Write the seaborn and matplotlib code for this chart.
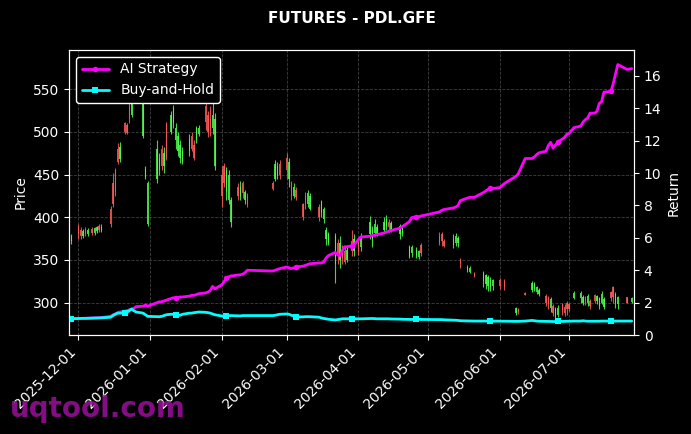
import numpy as np
import pandas as pd
import matplotlib
matplotlib.use("Agg")
import matplotlib.pyplot as plt
import matplotlib.dates as mdates
import seaborn as sns

# candle dates and OHLC values
dates = [
    "2025-11-28", "2025-12-01", "2025-12-02", "2025-12-03", "2025-12-04", "2025-12-05",
    "2025-12-07", "2025-12-08", "2025-12-09", "2025-12-10", "2025-12-11", "2025-12-15",
    "2025-12-16", "2025-12-17", "2025-12-18", "2025-12-19", "2025-12-21", "2025-12-22",
    "2025-12-23", "2025-12-24", "2025-12-25", "2025-12-26", "2025-12-29", "2025-12-30",
    "2025-12-31", "2026-01-04", "2026-01-05", "2026-01-06", "2026-01-07", "2026-01-08",
    "2026-01-10", "2026-01-11", "2026-01-12", "2026-01-13", "2026-01-14", "2026-01-15",
    "2026-01-18", "2026-01-19", "2026-01-20", "2026-01-21", "2026-01-22", "2026-01-25",
    "2026-01-26", "2026-01-27", "2026-01-28", "2026-01-29", "2026-02-01", "2026-02-02",
    "2026-02-03", "2026-02-04", "2026-02-05", "2026-02-08", "2026-02-09", "2026-02-10",
    "2026-02-11", "2026-02-12", "2026-02-23", "2026-02-24", "2026-02-25", "2026-02-26",
    "2026-03-01", "2026-03-02", "2026-03-03", "2026-03-04", "2026-03-05", "2026-03-08",
    "2026-03-09", "2026-03-10", "2026-03-11", "2026-03-15", "2026-03-16", "2026-03-17",
    "2026-03-18", "2026-03-19", "2026-03-22", "2026-03-23", "2026-03-24", "2026-03-25",
    "2026-03-26", "2026-03-27", "2026-03-29", "2026-03-30", "2026-04-01", "2026-04-02",
    "2026-04-06", "2026-04-07", "2026-04-08", "2026-04-09", "2026-04-12", "2026-04-13",
    "2026-04-14", "2026-04-15", "2026-04-19", "2026-04-20", "2026-04-23", "2026-04-24",
    "2026-04-26", "2026-04-27", "2026-04-28", "2026-05-06", "2026-05-07", "2026-05-08",
    "2026-05-12", "2026-05-13", "2026-05-14", "2026-05-15", "2026-05-18", "2026-05-19",
    "2026-05-21", "2026-05-25", "2026-05-26", "2026-05-27", "2026-05-28", "2026-05-29",
    "2026-06-01", "2026-06-03", "2026-06-08", "2026-06-09", "2026-06-12", "2026-06-15",
    "2026-06-16", "2026-06-17", "2026-06-18", "2026-06-21", "2026-06-22", "2026-06-23",
    "2026-06-24", "2026-06-25", "2026-06-26", "2026-06-28", "2026-06-29", "2026-06-30",
    "2026-07-01", "2026-07-03", "2026-07-06", "2026-07-07", "2026-07-08", "2026-07-09",
    "2026-07-10", "2026-07-12", "2026-07-13", "2026-07-14", "2026-07-15", "2026-07-16",
    "2026-07-19", "2026-07-20", "2026-07-21", "2026-07-22", "2026-07-26", "2026-07-28",
]
opens = [
    372, 390, 385, 378, 386, 380, 386, 381, 384, 390, 385, 410,
    440, 455, 480, 468, 510, 508, 530, 520, 560, 555, 495, 447,
    392, 445, 455, 480, 460, 510, 500, 510, 490, 478, 470, 465,
    478, 495, 485, 490, 498, 530, 520, 515, 505, 460, 450, 460,
    430, 420, 395, 435, 425, 440, 420, 425, 440, 445, 448, 462,
    470, 445, 440, 425, 432, 415, 425, 415, 410, 412, 405, 398,
    375, 370, 345, 370, 350, 365, 360, 350, 372, 360, 370, 365,
    380, 375, 382, 380, 385, 390, 395, 385, 380, 382, 355, 358,
    355, 353, 368, 378, 380, 372, 368, 370, 370, 350, 338, 336,
    335, 325, 322, 320, 318, 320, 327, 325, 288, 293, 311, 315,
    316, 312, 310, 308, 305, 294, 296, 283, 286, 298, 295, 300,
    298, 305, 305, 300, 306, 300, 302, 309, 302, 296, 300, 295,
    312, 318, 300, 298, 306, 301,
]
highs = [
    380, 392, 388, 386, 388, 387, 388, 389, 390, 392, 392, 413,
    452, 458, 487, 488, 512, 511, 537, 538, 578, 562, 540, 460,
    442, 490, 475, 485, 482, 512, 525, 532, 510, 500, 490, 482,
    497, 500, 490, 507, 508, 534, 524, 530, 545, 522, 460, 464,
    459, 455, 424, 440, 443, 443, 432, 428, 443, 467, 465, 467,
    475, 470, 442, 440, 436, 417, 430, 432, 428, 416, 420, 412,
    389, 383, 382, 375, 378, 368, 365, 366, 385, 380, 372, 382,
    401, 390, 398, 392, 400, 403, 398, 396, 392, 391, 368, 367,
    365, 362, 370, 383, 383, 375, 380, 381, 378, 352, 344, 343,
    336, 337, 334, 332, 330, 328, 329, 328, 295, 294, 312, 325,
    324, 320, 317, 310, 308, 306, 298, 295, 297, 300, 298, 302,
    300, 313, 313, 309, 308, 310, 304, 310, 309, 307, 313, 306,
    314, 319, 312, 308, 307, 307,
]
lows = [
    369, 375, 374, 376, 378, 378, 379, 379, 382, 383, 383, 389,
    412, 425, 462, 465, 498, 497, 511, 518, 535, 540, 493, 445,
    390, 440, 450, 455, 452, 467, 498, 505, 480, 472, 464, 462,
    472, 478, 467, 487, 495, 502, 494, 495, 498, 455, 412, 435,
    420, 415, 389, 420, 420, 422, 415, 412, 432, 443, 445, 445,
    445, 435, 420, 422, 420, 397, 410, 412, 408, 396, 400, 393,
    368, 368, 323, 345, 340, 345, 345, 347, 354, 355, 356, 360,
    375, 365, 378, 378, 382, 385, 383, 383, 374, 378, 352, 353,
    352, 351, 355, 368, 366, 365, 364, 366, 365, 341, 336, 335,
    330, 318, 316, 314, 313, 315, 316, 315, 286, 287, 309, 312,
    313, 310, 308, 296, 292, 289, 284, 280, 283, 286, 284, 286,
    290, 304, 300, 297, 297, 296, 292, 300, 298, 292, 298, 292,
    302, 300, 294, 292, 299, 300,
]
closes = [
    378, 380, 378, 384, 380, 385, 381, 387, 388, 385, 389, 392,
    415, 430, 465, 482, 500, 499, 515, 535, 540, 545, 535, 457,
    440, 480, 470, 460, 475, 470, 520, 528, 505, 495, 485, 478,
    492, 480, 470, 505, 505, 512, 500, 505, 520, 515, 425, 440,
    455, 450, 420, 425, 435, 428, 430, 415, 433, 462, 460, 450,
    455, 465, 425, 435, 424, 400, 415, 428, 425, 400, 418, 410,
    385, 380, 378, 355, 370, 350, 348, 362, 360, 375, 360, 378,
    395, 385, 392, 388, 395, 398, 388, 393, 390, 388, 365, 365,
    362, 360, 358, 370, 372, 366, 375, 378, 376, 345, 342, 341,
    331, 335, 332, 330, 326, 326, 320, 318, 294, 289, 309, 323,
    322, 318, 315, 300, 298, 304, 288, 292, 294, 290, 288, 292,
    292, 311, 311, 307, 300, 308, 296, 302, 308, 305, 310, 304,
    305, 306, 310, 306, 300, 305,
]

# cumulative returns on the same dates
ai_return = [
    1.00, 1.02, 1.02, 1.03, 1.03, 1.04, 1.05, 1.05, 1.06, 1.07, 1.08, 1.15,
    1.25, 1.30, 1.38, 1.42, 1.45, 1.50, 1.55, 1.60, 1.65, 1.75, 1.78, 1.85,
    1.78, 2.00, 2.05, 2.05, 2.10, 2.15, 2.25, 2.30, 2.30, 2.32, 2.35, 2.35,
    2.40, 2.45, 2.45, 2.50, 2.55, 2.60, 2.65, 2.75, 3.00, 2.85, 3.10, 3.30,
    3.50, 3.60, 3.65, 3.70, 3.72, 3.75, 3.85, 4.00, 3.95, 4.00, 4.05, 4.10,
    4.20, 4.15, 4.10, 4.15, 4.20, 4.25, 4.30, 4.35, 4.40, 4.45, 4.45, 4.50,
    4.75, 4.90, 5.10, 4.95, 4.90, 5.20, 5.45, 5.45, 5.50, 5.55, 5.90, 6.05,
    6.10, 6.15, 6.15, 6.20, 6.30, 6.35, 6.40, 6.45, 6.60, 6.70, 7.00, 7.25,
    7.30, 7.30, 7.35, 7.60, 7.70, 7.75, 7.85, 7.90, 8.00, 8.30, 8.45, 8.50,
    8.50, 8.80, 8.90, 9.00, 9.05, 9.05, 9.10, 9.35, 9.80, 9.95, 10.90, 10.90,
    11.00, 11.15, 11.25, 11.35, 11.70, 11.90, 11.55, 11.70, 11.90, 12.10, 12.20, 12.40,
    12.45, 12.80, 12.90, 13.15, 13.30, 13.40, 13.70, 13.70, 13.80, 14.30, 14.40, 15.00,
    15.05, 15.50, 16.10, 16.70, 16.40, 16.45,
]
bh_return = [
    1.00, 1.02, 1.02, 1.03, 1.03, 1.03, 1.04, 1.04, 1.05, 1.05, 1.06, 1.10,
    1.20, 1.28, 1.35, 1.35, 1.36, 1.40, 1.50, 1.60, 1.50, 1.42, 1.35, 1.25,
    1.15, 1.13, 1.13, 1.15, 1.20, 1.25, 1.28, 1.28, 1.25, 1.22, 1.22, 1.28,
    1.35, 1.35, 1.38, 1.40, 1.42, 1.40, 1.38, 1.35, 1.30, 1.25, 1.18, 1.15,
    1.18, 1.20, 1.20, 1.18, 1.18, 1.20, 1.20, 1.20, 1.20, 1.22, 1.25, 1.28,
    1.30, 1.28, 1.22, 1.18, 1.12, 1.12, 1.13, 1.13, 1.13, 1.10, 1.05, 1.02,
    1.00, 0.97, 0.93, 0.95, 0.97, 1.00, 1.00, 1.00, 1.00, 1.00, 1.00, 1.00,
    1.02, 1.02, 1.01, 1.00, 1.00, 1.00, 1.00, 0.99, 0.98, 0.97, 0.96, 0.96,
    0.97, 0.97, 0.96, 0.95, 0.95, 0.94, 0.92, 0.91, 0.90, 0.88, 0.87, 0.86,
    0.86, 0.86, 0.86, 0.86, 0.86, 0.86, 0.85, 0.85, 0.84, 0.84, 0.86, 0.90,
    0.88, 0.86, 0.85, 0.84, 0.84, 0.84, 0.83, 0.83, 0.84, 0.84, 0.84, 0.85,
    0.85, 0.86, 0.86, 0.88, 0.86, 0.85, 0.85, 0.85, 0.85, 0.85, 0.86, 0.86,
    0.86, 0.86, 0.86, 0.86, 0.86, 0.86,
]

df = pd.DataFrame({
    "date": pd.to_datetime(dates),
    "open": opens, "high": highs, "low": lows, "close": closes,
    "ai": ai_return, "bh": bh_return,
})

sns.set_style("dark", rc={
    "axes.facecolor": "black", "figure.facecolor": "black",
    "axes.edgecolor": "white", "axes.labelcolor": "white",
    "xtick.color": "white", "ytick.color": "white", "text.color": "white",
    "xtick.bottom": True, "ytick.left": True,
})
plt.rcParams["font.family"] = ["DejaVu Sans"]

fig = plt.figure(figsize=(6.91, 4.34), dpi=100)
ax = fig.add_axes([0.0999, 0.2281, 0.8176, 0.6567])

up = df["close"] >= df["open"]
colors = np.where(up, "#4dff4d", "#ff5a5a")
ax.vlines(df["date"], df["low"], df["high"], colors=colors, linewidth=0.8, alpha=0.85)
ax.bar(df["date"], (df["close"] - df["open"]).abs(),
       bottom=np.minimum(df["open"], df["close"]), width=0.6,
       color=colors, alpha=0.85, linewidth=0)

ax.set_ylim(262, 596)
ax.set_xlim(pd.Timestamp("2025-11-27"), pd.Timestamp("2026-07-29"))
ax.set_ylabel("Price", fontsize=10)
ax.grid(True, color="gray", linestyle="--", linewidth=0.6, alpha=0.5)
ax.xaxis.set_major_locator(mdates.MonthLocator())
ax.xaxis.set_major_formatter(mdates.DateFormatter("%Y-%m-%d"))
plt.setp(ax.get_xticklabels(), rotation=45, ha="right")
for s in ax.spines.values():
    s.set_color("white")

ax2 = ax.twinx()
sns.lineplot(data=df, x="date", y="ai", ax=ax2, color="#ff00ff", linewidth=2,
             marker="o", markersize=4, markeredgewidth=0, markevery=16,
             label="AI Strategy")
sns.lineplot(data=df, x="date", y="bh", ax=ax2, color="#00ffff", linewidth=2,
             marker="s", markersize=4, markeredgewidth=0, markevery=16,
             label="Buy-and-Hold")
ax2.set_ylim(0, 17.6)
ax2.set_yticks(range(0, 17, 2))
ax2.set_ylabel("Return", fontsize=10)
ax2.set_xlabel("")
ax.set_xlabel("")
ax2.grid(False)
ax2.tick_params(axis="y", colors="white", right=True)
leg = ax2.legend(loc="upper left", facecolor="black", edgecolor="white",
                 framealpha=1, fontsize=10)
for t in leg.get_texts():
    t.set_color("white")

fig.suptitle("FUTURES - PDL.GFE", x=0.509, y=0.975, fontsize=11,
             fontweight="bold", color="white")
fig.text(0.015, 0.058, "uqtool.com", fontsize=20, fontweight="bold",
         color="#9b109b", alpha=0.85, va="center", ha="left")

fig.savefig("out.png", dpi=100, facecolor="black")
